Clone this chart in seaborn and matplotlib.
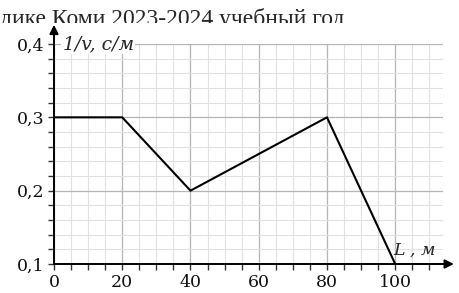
import numpy as np
import pandas as pd
import matplotlib
matplotlib.use('Agg')
import matplotlib.pyplot as plt
import seaborn as sns
from matplotlib.transforms import Bbox, TransformedBbox

# Data
L_m = [0, 20, 40, 80, 100]
inv_v = [0.3, 0.3, 0.2, 0.3, 0.1]
x_major = [0, 20, 40, 60, 80, 100]
y_major = [0.1, 0.2, 0.3, 0.4]
y_labels = ['0,1', '0,2', '0,3', '0,4']
header = 'дике Коми 2023-2024 учебный год'

df = pd.DataFrame({'L': L_m, 'inv_v': inv_v})

sns.set_style('white')
plt.rcParams['font.family'] = ['DejaVu Serif']

fig = plt.figure(figsize=(4.6, 2.93), dpi=100)
ax = fig.add_axes([54 / 460, 29 / 293, 389 / 460, 220 / 293])

sns.lineplot(data=df, x='L', y='inv_v', color='black', linewidth=1.5, ax=ax, zorder=5)

ax.set_xlim(0, 114)
ax.set_ylim(0.1, 0.4)
ax.set_xticks(x_major)
ax.set_xticks(np.arange(0, 114, 5), minor=True)
ax.set_yticks(y_major)
ax.set_yticks(np.arange(0.1, 0.401, 0.02), minor=True)
ax.set_xticklabels([str(v) for v in x_major], fontsize=12.5, weight='medium')
ax.set_yticklabels(y_labels, fontsize=12.5, weight='medium')
ax.set_xlabel('')
ax.set_ylabel('')

ax.grid(which='major', color='#b5b5b5', linewidth=0.9)
ax.grid(which='minor', color='#e0e0e0', linewidth=0.8)
ax.set_axisbelow(True)

for s in ['top', 'right']:
    ax.spines[s].set_visible(False)
for s in ['left', 'bottom']:
    ax.spines[s].set_linewidth(1.4)
    ax.spines[s].set_color('black')

ax.tick_params(which='both', direction='out', length=4, width=1, color='#333333',
               left=True, bottom=True)
ax.tick_params(axis='x', which='major', pad=3.5)
ax.tick_params(axis='y', which='major', pad=3)
ax.tick_params(which='major', labelcolor='#111111')

# axis arrows
ax.annotate('', xy=(118, 0.1), xytext=(100, 0.1), xycoords='data',
            arrowprops=dict(arrowstyle='-|>', color='black', lw=1.4, mutation_scale=13),
            annotation_clip=False)
ax.annotate('', xy=(0, 0.43), xytext=(0, 0.38), xycoords='data',
            arrowprops=dict(arrowstyle='-|>', color='black', lw=1.4, mutation_scale=13),
            annotation_clip=False)

ax.text(2.5, 0.4, '1/v, с/м', style='italic', fontsize=13.5, weight='medium',
        va='center', ha='left',
        bbox=dict(facecolor='white', edgecolor='none', pad=1), zorder=6)
ax.text(99.5, 0.118, 'L , м', style='italic', fontsize=12.5, va='center', ha='left',
        zorder=6)

t = fig.text(0.0, 1 - 25 / 293, header, family='Liberation Serif', fontsize=17,
             ha='left', va='baseline')
t.set_clip_on(True)
t.set_clip_box(TransformedBbox(Bbox([[0, 1 - 22.5 / 293], [1, 1]]), fig.transFigure))

fig.savefig('out.png', dpi=100)
